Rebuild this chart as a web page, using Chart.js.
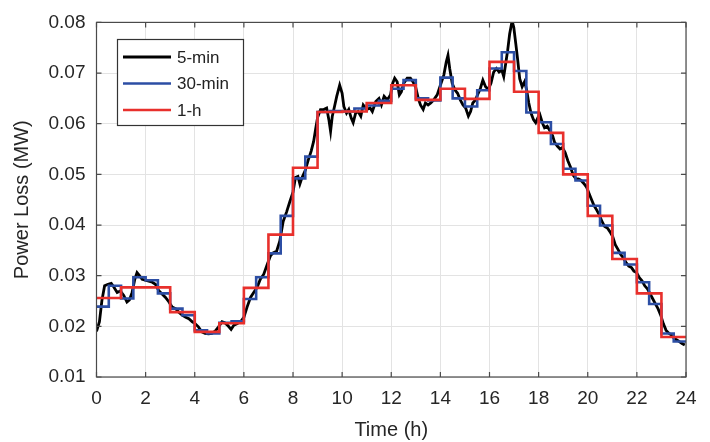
<!DOCTYPE html>
<html>
<head>
<meta charset="utf-8">
<script src="https://cdn.jsdelivr.net/npm/chart.js@4.4.1/dist/chart.umd.min.js"></script>
<style>
  html, body { margin: 0; padding: 0; background: #fff; }
  #wrap { width: 710px; height: 442px; }
</style>
</head>
<body>
<div id="wrap"><canvas id="lossChart" width="710" height="442"></canvas></div>
<script>
/* ─── Data ──────────────────────────────────────── */
const SERIES_LABELS = ['5-min', '30-min', '1-h'];

// 5-min profile (hour, MW)
const FIVE_MIN_T = [
  0.00, 0.12, 0.22, 0.33, 0.47, 0.60, 0.71, 0.84, 0.97, 1.11, 1.24, 1.34, 1.45, 1.56, 1.65, 1.75,
  1.86, 1.99, 2.13, 2.27, 2.40, 2.54, 2.67, 2.81, 2.95, 3.08, 3.22, 3.35, 3.49, 3.63, 3.76, 3.90,
  4.00, 4.15, 4.29, 4.42, 4.56, 4.70, 4.84, 4.97, 5.11, 5.22, 5.34, 5.48, 5.59, 5.72, 5.86, 6.00,
  6.13, 6.27, 6.40, 6.54, 6.67, 6.81, 6.95, 7.08, 7.19, 7.33, 7.46, 7.60, 7.74, 7.87, 8.00, 8.10,
  8.20, 8.28, 8.37, 8.50, 8.62, 8.74, 8.84, 8.92, 9.00, 9.12, 9.25, 9.37, 9.46, 9.53, 9.60, 9.69,
  9.78, 9.90, 10.00, 10.07, 10.18, 10.27, 10.37, 10.45, 10.55, 10.65, 10.76, 10.86, 11.00, 11.14, 11.23, 11.37,
  11.50, 11.60, 11.71, 11.84, 11.97, 12.06, 12.14, 12.24, 12.33, 12.41, 12.51, 12.65, 12.78, 12.88, 12.99, 13.10,
  13.19, 13.30, 13.39, 13.50, 13.61, 13.73, 13.87, 14.00, 14.14, 14.24, 14.31, 14.38, 14.48, 14.59, 14.70, 14.81,
  14.92, 15.03, 15.14, 15.23, 15.32, 15.43, 15.54, 15.63, 15.73, 15.84, 15.95, 16.06, 16.17, 16.28, 16.39, 16.50,
  16.58, 16.66, 16.74, 16.82, 16.92, 16.99, 17.07, 17.15, 17.23, 17.33, 17.43, 17.51, 17.60, 17.69, 17.79, 17.88,
  17.97, 18.05, 18.15, 18.24, 18.35, 18.46, 18.57, 18.65, 18.76, 18.87, 18.97, 19.08, 19.19, 19.30, 19.41, 19.52,
  19.62, 19.73, 19.84, 19.95, 20.03, 20.14, 20.25, 20.36, 20.47, 20.58, 20.69, 20.80, 20.90, 21.01, 21.12, 21.23,
  21.34, 21.45, 21.56, 21.67, 21.78, 21.88, 21.99, 22.10, 22.21, 22.32, 22.43, 22.54, 22.65, 22.76, 22.86, 22.97,
  23.08, 23.19, 23.31, 23.41, 23.52, 23.63, 23.73, 23.84, 23.95
];
const FIVE_MIN_V = [
  0.0190, 0.0209, 0.0251, 0.0280, 0.0283, 0.0285, 0.0277, 0.0267, 0.0270, 0.0261, 0.0248, 0.0252, 0.0267, 0.0293, 0.0306, 0.0300,
  0.0293, 0.0291, 0.0289, 0.0287, 0.0283, 0.0270, 0.0264, 0.0257, 0.0248, 0.0238, 0.0235, 0.0228, 0.0222, 0.0218, 0.0215, 0.0209,
  0.0206, 0.0199, 0.0189, 0.0186, 0.0185, 0.0186, 0.0191, 0.0199, 0.0209, 0.0207, 0.0202, 0.0194, 0.0202, 0.0205, 0.0209, 0.0218,
  0.0238, 0.0257, 0.0267, 0.0277, 0.0293, 0.0303, 0.0322, 0.0339, 0.0345, 0.0348, 0.0368, 0.0407, 0.0426, 0.0446, 0.0465, 0.0494,
  0.0496, 0.0481, 0.0494, 0.0508, 0.0528, 0.0546, 0.0565, 0.0589, 0.0612, 0.0628, 0.0628, 0.0631, 0.0608, 0.0585, 0.0615, 0.0634,
  0.0654, 0.0676, 0.0660, 0.0634, 0.0621, 0.0628, 0.0611, 0.0602, 0.0621, 0.0624, 0.0615, 0.0637, 0.0628, 0.0631, 0.0624, 0.0644,
  0.0650, 0.0637, 0.0654, 0.0647, 0.0657, 0.0680, 0.0690, 0.0683, 0.0657, 0.0663, 0.0680, 0.0690, 0.0690, 0.0683, 0.0673, 0.0650,
  0.0637, 0.0628, 0.0641, 0.0637, 0.0641, 0.0647, 0.0657, 0.0676, 0.0696, 0.0722, 0.0735, 0.0709, 0.0680, 0.0667, 0.0660, 0.0647,
  0.0637, 0.0631, 0.0615, 0.0624, 0.0641, 0.0647, 0.0660, 0.0670, 0.0686, 0.0673, 0.0668, 0.0680, 0.0702, 0.0709, 0.0702, 0.0706,
  0.0693, 0.0719, 0.0745, 0.0777, 0.0803, 0.0790, 0.0758, 0.0725, 0.0689, 0.0673, 0.0683, 0.0667, 0.0641, 0.0621, 0.0608, 0.0602,
  0.0612, 0.0618, 0.0602, 0.0592, 0.0595, 0.0586, 0.0576, 0.0563, 0.0556, 0.0550, 0.0553, 0.0543, 0.0527, 0.0514, 0.0498, 0.0491,
  0.0491, 0.0488, 0.0482, 0.0475, 0.0465, 0.0452, 0.0439, 0.0430, 0.0420, 0.0407, 0.0397, 0.0394, 0.0387, 0.0378, 0.0361, 0.0352,
  0.0342, 0.0335, 0.0326, 0.0319, 0.0316, 0.0309, 0.0306, 0.0296, 0.0290, 0.0280, 0.0274, 0.0264, 0.0254, 0.0244, 0.0235, 0.0222,
  0.0205, 0.0192, 0.0186, 0.0183, 0.0176, 0.0173, 0.0170, 0.0166, 0.0163
];

// 30-min averages, one value per half hour starting at 0:00
const THIRTY_MIN_V = [
  0.0239, 0.0280, 0.0255, 0.0297, 0.0291, 0.0265, 0.0235, 0.0222,
  0.0192, 0.0186, 0.0207, 0.0210, 0.0254, 0.0297, 0.0344, 0.0418,
  0.0492, 0.0535, 0.0623, 0.0625, 0.0624, 0.0630, 0.0636, 0.0645,
  0.0669, 0.0686, 0.0650, 0.0646, 0.0691, 0.0650, 0.0634, 0.0666,
  0.0709, 0.0741, 0.0704, 0.0622, 0.0603, 0.0560, 0.0511, 0.0488,
  0.0438, 0.0399, 0.0345, 0.0322, 0.0287, 0.0244, 0.0186, 0.0170
];

// 1-h averages, one value per hour starting at 0:00
const ONE_HOUR_V = [
  0.0256, 0.0277, 0.0277, 0.0228, 0.0189, 0.0206, 0.0276, 0.0381,
  0.0513, 0.0623, 0.0624, 0.0641, 0.0676, 0.0647, 0.0669, 0.0649,
  0.0722, 0.0663, 0.0582, 0.0500, 0.0418, 0.0333, 0.0265, 0.0179
];

const X_TICKS = [0, 2, 4, 6, 8, 10, 12, 14, 16, 18, 20, 22, 24];
const Y_TICKS = [0.01, 0.02, 0.03, 0.04, 0.05, 0.06, 0.07, 0.08];

/* ─── Helpers ───────────────────────────────────── */
const FONT = '"Liberation Sans", Arial, Helvetica, sans-serif';

// step series: value i holds from i*width to (i+1)*width
function stepPoints(vals, width) {
  const pts = vals.map((v, i) => ({ x: i * width, y: v }));
  pts.push({ x: vals.length * width, y: vals[vals.length - 1] });
  return pts;
}

/* ─── Plugins ───────────────────────────────────── */
// MATLAB style box with inward tick marks
const boxPlugin = {
  id: 'box',
  afterDraw(chart) {
    const { ctx, chartArea: a, scales } = chart;
    ctx.save();
    ctx.strokeStyle = '#4a4a4a';
    ctx.lineWidth = 1.2;
    ctx.strokeRect(a.left, a.top, a.right - a.left, a.bottom - a.top);
    ctx.beginPath();
    const tl = 5;
    X_TICKS.forEach(t => {
      const px = scales.x.getPixelForValue(t);
      ctx.moveTo(px, a.bottom); ctx.lineTo(px, a.bottom - tl);
      ctx.moveTo(px, a.top);    ctx.lineTo(px, a.top + tl);
    });
    Y_TICKS.forEach(t => {
      const py = scales.y.getPixelForValue(t);
      ctx.moveTo(a.left, py);  ctx.lineTo(a.left + tl, py);
      ctx.moveTo(a.right, py); ctx.lineTo(a.right - tl, py);
    });
    ctx.stroke();
    ctx.restore();
  },
};

// legend box sitting inside the axes, upper left
const insideLegend = {
  id: 'insideLegend',
  afterDraw(chart) {
    const { ctx } = chart;
    const box = { x: 117.5, y: 39.5, w: 126, h: 86 };
    ctx.save();
    ctx.fillStyle = '#fff';
    ctx.fillRect(box.x, box.y, box.w, box.h);
    ctx.strokeStyle = '#333';
    ctx.lineWidth = 1.2;
    ctx.strokeRect(box.x, box.y, box.w, box.h);
    ctx.font = '17px ' + FONT;
    ctx.textBaseline = 'middle';
    chart.data.datasets.forEach((ds, i) => {
      const y = 57 + i * 26.5;
      ctx.strokeStyle = ds.borderColor;
      ctx.lineWidth = ds.borderWidth;
      ctx.beginPath();
      ctx.moveTo(123, y);
      ctx.lineTo(171, y);
      ctx.stroke();
      ctx.fillStyle = '#222';
      ctx.fillText(ds.label, 177, y + 1);
    });
    ctx.restore();
  },
};

/* ─── Chart ─────────────────────────────────────── */
const ctx = document.getElementById('lossChart').getContext('2d');

new Chart(ctx, {
  type: 'line',
  data: {
    datasets: [
      {
        label: SERIES_LABELS[0],
        data: FIVE_MIN_T.map((t, i) => ({ x: t, y: FIVE_MIN_V[i] })),
        borderColor: '#000000',
        borderWidth: 2.8,
        pointRadius: 0,
        tension: 0,
        order: 3,
      },
      {
        label: SERIES_LABELS[1],
        data: stepPoints(THIRTY_MIN_V, 0.5),
        borderColor: '#2c4ea4',
        borderWidth: 2.6,
        pointRadius: 0,
        stepped: 'before',
        order: 2,
      },
      {
        label: SERIES_LABELS[2],
        data: stepPoints(ONE_HOUR_V, 1),
        borderColor: '#e8302c',
        borderWidth: 2.6,
        pointRadius: 0,
        stepped: 'before',
        order: 1,
      },
    ],
  },
  options: {
    responsive: false,
    animation: false,
    layout: { padding: { left: 0, right: 24, top: 18, bottom: 0 } },
    plugins: {
      legend: { display: false },
      tooltip: { enabled: false },
    },
    scales: {
      x: {
        type: 'linear',
        min: 0,
        max: 24,
        afterBuildTicks: s => { s.ticks = X_TICKS.map(v => ({ value: v })); },
        afterFit: s => { s.height = 65; },
        grid: { color: '#e3e3e3', lineWidth: 1, drawTicks: false },
        border: { display: false },
        ticks: {
          color: '#262626',
          padding: 10,
          maxRotation: 0,
          font: { family: FONT, size: 19 },
        },
        title: {
          display: true,
          text: 'Time (h)',
          color: '#262626',
          padding: { top: 0, bottom: 0 },
          font: { family: FONT, size: 20 },
        },
      },
      y: {
        type: 'linear',
        min: 0.01,
        max: 0.08,
        afterBuildTicks: s => { s.ticks = Y_TICKS.map(v => ({ value: v })); },
        afterFit: s => { s.width = 96.5; },
        grid: { color: '#e3e3e3', lineWidth: 1, drawTicks: false },
        border: { display: false },
        ticks: {
          color: '#262626',
          padding: 11,
          callback: v => v.toFixed(2),
          font: { family: FONT, size: 19 },
        },
        title: {
          display: true,
          text: 'Power Loss (MW)',
          color: '#262626',
          padding: { top: 10, bottom: 0 },
          font: { family: FONT, size: 20 },
        },
      },
    },
  },
  plugins: [boxPlugin, insideLegend],
});
</script>
</body>
</html>
